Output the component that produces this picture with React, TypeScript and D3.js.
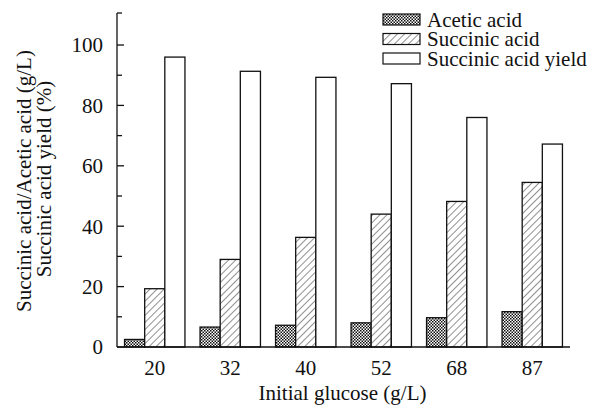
import React from "react";
import * as d3 from "d3";

const categories = ["20", "32", "40", "52", "68", "87"];
const aceticAcid = [2.5, 6.6, 7.2, 8, 9.7, 11.7];
const succinicAcid = [19.3, 29, 36.3, 44, 48.2, 54.5];
const succinicYield = [96, 91.3, 89.3, 87.2, 76, 67.2];
const seriesNames = ["Acetic acid", "Succinic acid", "Succinic acid yield"];
const yTicks = [0, 20, 40, 60, 80, 100];
const yMinorTicks = [10, 30, 50, 70, 90];

export default function App() {
  const W = 601, H = 405;
  const left = 117, right = 570, top = 13, bottom = 347;
  const x = d3.scaleBand<string>().domain(categories).range([left, right]).paddingInner(0.2).paddingOuter(0.1);
  const y = d3.scaleLinear().domain([0, 110.6]).range([bottom, top]);
  const sub = d3.scaleBand<number>().domain([0, 1, 2]).range([0, x.bandwidth()]);
  const series = [aceticAcid, succinicAcid, succinicYield];
  const fills = ["url(#cross)", "url(#diag)", "#fff"];
  const font = "Liberation Serif, Times New Roman, serif";
  const fs = 21;
  return (
    <svg width={W} height={H} style={{ position: "absolute", left: 0, top: 0, background: "#fff", fontFamily: font }}>
      <defs>
        <pattern id="cross" width="3" height="3" patternUnits="userSpaceOnUse">
          <rect width="3" height="3" fill="#fff" />
          <rect x="0" y="0" width="1.5" height="1.5" fill="#111" />
          <rect x="1.5" y="1.5" width="1.5" height="1.5" fill="#111" />
        </pattern>
        <pattern id="diag" width="5" height="5" patternUnits="userSpaceOnUse" patternTransform="rotate(45)">
          <rect width="5" height="5" fill="#fff" />
          <line x1="0" y1="0" x2="0" y2="5" stroke="#222" strokeWidth="1" />
        </pattern>
      </defs>
      {series.map((vals, si) =>
        categories.map((c, ci) => {
          const bx = (x(c) as number) + (sub(si) as number);
          const by = y(vals[ci]);
          return (
            <rect key={`${si}-${ci}`} x={bx} y={by} width={sub.bandwidth()} height={bottom - by}
              fill={fills[si]} stroke="#111" strokeWidth={1.3} />
          );
        })
      )}
      <line x1={left} y1={top} x2={left} y2={bottom} stroke="#111" strokeWidth={1.3} />
      <line x1={left} y1={bottom} x2={right} y2={bottom} stroke="#111" strokeWidth={1.3} />
      <line x1={left} y1={top} x2={left + 5} y2={top} stroke="#111" strokeWidth={1.3} />
      {yTicks.map((t) => (
        <g key={t}>
          <line x1={left} x2={left + 7} y1={y(t)} y2={y(t)} stroke="#111" strokeWidth={1.3} />
          <text x={left - 14} y={y(t)} dy="0.35em" textAnchor="end" fontSize={fs} fill="#111" style={{ fontFamily: font }}>{t}</text>
        </g>
      ))}
      {yMinorTicks.map((t) => (
        <line key={t} x1={left} x2={left + 5} y1={y(t)} y2={y(t)} stroke="#111" strokeWidth={1.3} />
      ))}
      {categories.map((c) => (
        <text key={c} x={(x(c) as number) + x.bandwidth() / 2} y={375} textAnchor="middle" fontSize={fs} fill="#111" style={{ fontFamily: font }}>{c}</text>
      ))}
      <text x={342.5} y={400} textAnchor="middle" fontSize={fs} fill="#111" style={{ fontFamily: font }}>Initial glucose (g/L)</text>
      <g transform="translate(31,181) rotate(-90)">
        <text x={0} y={0} textAnchor="middle" fontSize={fs} fill="#111" style={{ fontFamily: font }}>Succinic acid/Acetic acid (g/L)</text>
      </g>
      <g transform="translate(51,179) rotate(-90)">
        <text x={0} y={0} textAnchor="middle" fontSize={fs} fill="#111" style={{ fontFamily: font }}>Succinic acid yield (%)</text>
      </g>
      {seriesNames.map((n, i) => (
        <g key={n} transform={`translate(383,${14 + i * 19.5})`}>
          <rect x={0} y={0} width={37} height={11} fill={fills[i]} stroke="#111" strokeWidth={1.2} />
          <text x={44} y={12.5} fontSize={fs} fill="#111" style={{ fontFamily: font }}>{n}</text>
        </g>
      ))}
    </svg>
  );
}
